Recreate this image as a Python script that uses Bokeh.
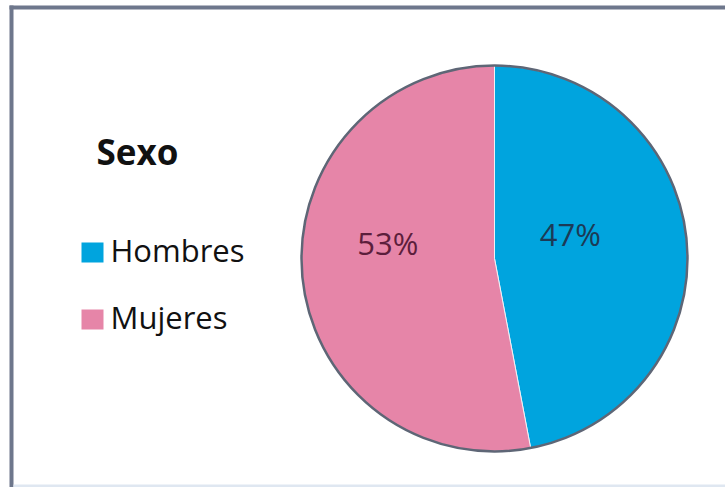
import numpy as np
from bokeh.plotting import figure
from bokeh.models import Range1d, ColumnDataSource, BoxAnnotation
from bokeh.core.properties import value
from bokeh.embed import file_html
from bokeh.resources import INLINE

# ---- data ----
legend_title = "Sexo"
categories = ["Hombres", "Mujeres"]
shares = [47, 53]
labels = ["47%", "53%"]
colors = ["#00A4DE", "#E685A8"]
label_colors = ["#1C3A56", "#5C1E3C"]

# ---- layout ----
W, H = 725, 487
FONT = "Open Sans"
p = figure(width=W, height=H, x_range=Range1d(0, W), y_range=Range1d(0, H),
           output_backend="svg", toolbar_location=None, min_border=0,
           x_axis_location=None, y_axis_location=None)
p.grid.visible = False
p.outline_line_color = None
p.background_fill_color = "#ffffff"
p.border_fill_color = "#ffffff"

# frame (top & left edges visible, bottom light edge)
p.add_layout(BoxAnnotation(left=9, right=W + 5, top=H - 5, bottom=H - 9,
                           fill_color="#6E778C", fill_alpha=1, line_color=None))
p.add_layout(BoxAnnotation(left=9, right=13, top=H - 5, bottom=-5,
                           fill_color="#6E778C", fill_alpha=1, line_color=None))
p.add_layout(BoxAnnotation(left=13, right=W + 5, top=3, bottom=-5,
                           fill_color="#dfe7f1", fill_alpha=1, line_color=None))

# pie
cx, cy, R = 494, H - 258, 193
frac = np.array(shares, dtype=float) / sum(shares)
ends = np.cumsum(frac)
starts = ends - frac
src = ColumnDataSource(dict(
    start=np.pi / 2 - 2 * np.pi * starts,
    end=np.pi / 2 - 2 * np.pi * ends,
    color=colors,
))
p.wedge(x=cx, y=cy, radius=R, start_angle="start", end_angle="end",
        direction="clock", fill_color="color", line_color="#eef2f6",
        line_width=1, source=src)
p.scatter(x=[cx], y=[cy], size=2 * R, marker="circle", fill_color=None,
          line_color="#5E6676", line_width=2.5)

# data labels placed along mid-angle of each slice
mid = 2 * np.pi * (starts + ends) / 2
lab_r = np.array([0.395, 0.555]) * R
lab_dy = np.array([17, 26])
lab_x = cx + lab_r * np.sin(mid)
lab_y = cy + lab_r * np.cos(mid) + lab_dy
p.text(x=lab_x, y=lab_y, text=labels, text_color=label_colors,
       text_font=value(FONT), text_font_size="31px",
       text_align="center", text_baseline="middle")

# legend
p.text(x=[96], y=[H - 151], text=[legend_title], text_font=value(FONT),
       text_font_style="bold", text_font_size="35px", text_color="#111111",
       text_align="left", text_baseline="alphabetic")
leg_y = np.array([H - 252, H - 319])
p.rect(x=92, y=leg_y, width=22, height=20, fill_color=colors, line_color=None)
p.text(x=110, y=leg_y + 3, text=categories, text_font=value(FONT),
       text_font_size="31px", text_color="#111111",
       text_align="left", text_baseline="alphabetic")

open("out.html", "w").write(file_html(p, INLINE))
